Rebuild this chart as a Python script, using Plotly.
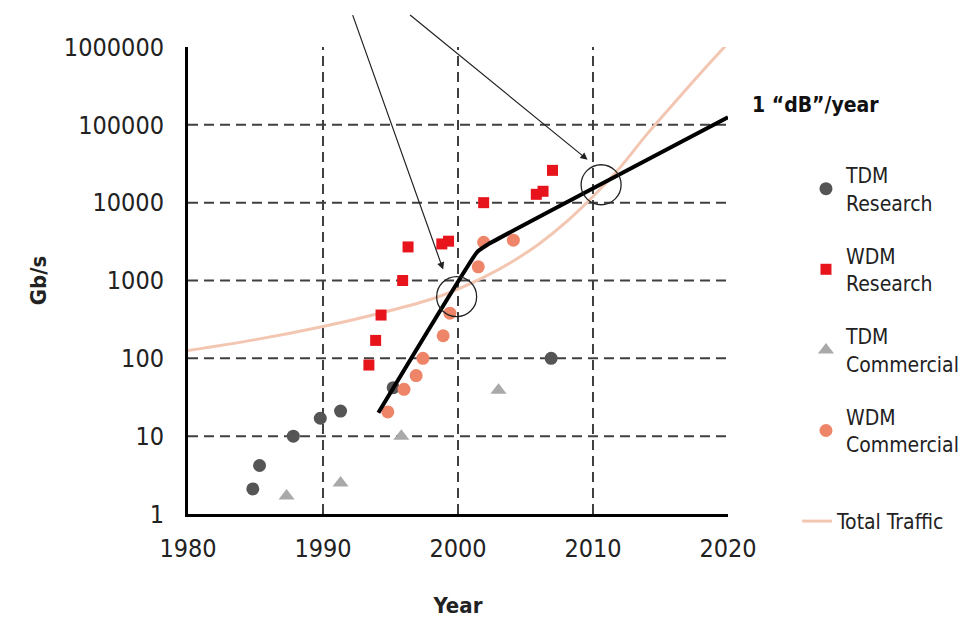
import math
import plotly.graph_objects as go

# ---- data ----
tdm_res_year = [1984.8, 1985.3, 1987.8, 1989.8, 1991.3, 1995.2, 2006.9]
tdm_res_gbs = [2.1, 4.2, 10, 17, 21, 42, 100]

wdm_res_year = [1993.4, 1993.9, 1994.3, 1995.9, 1996.3, 1998.8, 1999.3, 2001.9, 2005.8, 2006.3, 2007.0]
wdm_res_gbs = [82, 170, 360, 1000, 2700, 2950, 3200, 10000, 12800, 14000, 26000]

tdm_com_year = [1987.3, 1991.3, 1995.8, 2003.0]
tdm_com_gbs = [1.7, 2.5, 10, 39]

wdm_com_year = [1994.8, 1996.0, 1996.9, 1997.4, 1998.9, 1999.4, 2001.5, 2001.9, 2004.1]
wdm_com_gbs = [20.5, 40, 60, 100, 195, 380, 1500, 3100, 3300]

traffic_year = [1980, 1985, 1990, 1994, 1998, 2000, 2002, 2004, 2006, 2008, 2010, 2012, 2014, 2016, 2018, 2020]
traffic_gbs = [126, 174, 257, 372, 575, 776, 1120, 1740, 2950, 5620, 12000, 28200, 75900, 190000, 468000, 1120000]

trend_year = [1994.1, 2001.4, 2002.2, 2020.0]
trend_gbs = [20, 2300, 2900, 125000]

circle_year = [1999.9, 2010.6]
circle_gbs = [620, 17000]

arrow_head_year = [1998.9, 2009.6]
arrow_head_gbs = [1380, 35500]

x_ticks = [1980, 1990, 2000, 2010, 2020]
y_ticks = [1, 10, 100, 1000, 10000, 100000, 1000000]
y_tick_text = ["1", "10", "100", "1000", "10000", "100000", "1000000"]

FONT = "DejaVu Sans Condensed, Liberation Sans Narrow, Arial Narrow, sans-serif"

fig = go.Figure()

fig.add_trace(go.Scatter(x=traffic_year, y=traffic_gbs, mode="lines", name="Total Traffic",
                         line=dict(color="#f3c6b2", width=3, shape="spline"),
                         legend="legend2"))
fig.add_trace(go.Scatter(x=tdm_res_year, y=tdm_res_gbs, mode="markers", name="TDM<br>Research",
                         marker=dict(symbol="circle", size=13, color="#555555"),
                         legendgroup="a"))
fig.add_trace(go.Scatter(x=wdm_res_year, y=wdm_res_gbs, mode="markers", name="WDM<br>Research",
                         marker=dict(symbol="square", size=11, color="#e8141c"),
                         legendgroup="b"))
fig.add_trace(go.Scatter(x=tdm_com_year, y=tdm_com_gbs, mode="markers", name="TDM<br>Commercial",
                         marker=dict(symbol="triangle-up", size=14, color="#a9a9a9"),
                         legendgroup="c"))
fig.add_trace(go.Scatter(x=wdm_com_year, y=wdm_com_gbs, mode="markers", name="WDM<br>Commercial",
                         marker=dict(symbol="circle", size=13, color="#ee8468"),
                         legendgroup="d"))
fig.add_trace(go.Scatter(x=trend_year, y=trend_gbs, mode="lines", showlegend=False,
                         line=dict(color="black", width=4, shape="spline", smoothing=0.3)))
fig.add_trace(go.Scatter(x=circle_year, y=circle_gbs, mode="markers", showlegend=False,
                         marker=dict(symbol="circle-open", size=40,
                                     line=dict(color="#222222", width=1.3), color="#222222")))

# dashed grid
shapes = []
for v in y_ticks[1:-1]:
    shapes.append(dict(type="line", xref="x", yref="y", x0=x_ticks[0], x1=x_ticks[-1], y0=v, y1=v,
                       layer="below", line=dict(color="#404040", width=2, dash="10px,6px")))
for v in x_ticks[1:-1]:
    shapes.append(dict(type="line", xref="x", yref="y", x0=v, x1=v, y0=y_ticks[0], y1=y_ticks[-1],
                       layer="below", line=dict(color="#404040", width=2, dash="10px,6px")))

arrow_tails = [(-91, -256), (-179, -146)]
annotations = []
for xh, yh, (ax, ay) in zip(arrow_head_year, arrow_head_gbs, arrow_tails):
    annotations.append(dict(x=xh, y=math.log10(yh), xref="x", yref="y", ax=ax, ay=ay,
                            showarrow=True, arrowhead=2, arrowsize=1.2, arrowwidth=1.2,
                            arrowcolor="#222222", text=""))
annotations.append(dict(x=1.041, y=0.876, xref="paper", yref="paper", xanchor="left", yanchor="middle",
                        showarrow=False, text="<b>1 “dB”/year</b>",
                        font=dict(family=FONT, size=21, color="#111111")))

fig.update_layout(
    width=975, height=625,
    margin=dict(l=180, r=255, t=39, b=119),
    paper_bgcolor="white", plot_bgcolor="white",
    font=dict(family=FONT, size=25, color="#222222"),
    shapes=shapes, annotations=annotations,
    legend=dict(x=1.1444, y=0.769, xanchor="left", yanchor="top",
                font=dict(family=FONT, size=21, color="#222222"),
                traceorder="grouped", tracegroupgap=23,
                bgcolor="rgba(0,0,0,0)"),
    legend2=dict(x=1.128, y=0.028, xanchor="left", yanchor="top",
                 font=dict(family=FONT, size=21, color="#222222"),
                 bgcolor="rgba(0,0,0,0)"),
)
fig.update_xaxes(range=[1980, 2020], tickvals=x_ticks, showgrid=False, zeroline=False,
                 showline=True, linecolor="black", linewidth=3,
                 ticks="outside", ticklen=10, tickcolor="white",
                 title=dict(text="<b>Year</b>", standoff=36, font=dict(size=22)))
fig.update_yaxes(type="log", range=[0, 6], tickvals=y_ticks, ticktext=y_tick_text,
                 showgrid=False, zeroline=False,
                 showline=True, linecolor="black", linewidth=3,
                 ticks="outside", ticklen=16, tickcolor="white",
                 title=dict(text="<b>Gb/s</b>", standoff=12, font=dict(size=22)))

fig.write_html("out.html")
